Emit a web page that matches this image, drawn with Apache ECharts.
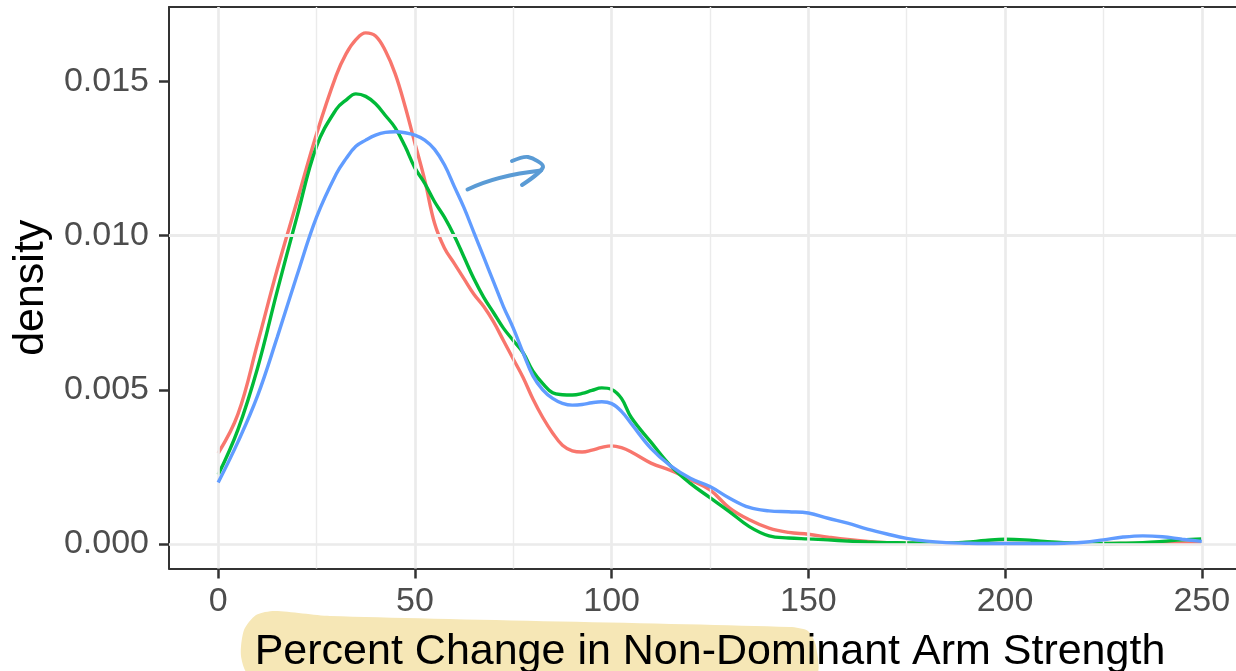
<!DOCTYPE html>
<html>
<head>
<meta charset="utf-8">
<script src="https://cdn.jsdelivr.net/npm/echarts@6/dist/echarts.min.js"></script>
<style>
html,body{margin:0;padding:0;background:#fff;}
#chart{width:1236px;height:671px;}
</style>
</head>
<body>
<div id="chart"></div>
<script>
// ---- data ----
const xValues = [0,5,10,15,20,25,30,32.5,35,37.5,40,42.5,45,47.5,50,52.5,55,57.5,60,62.5,65,67.5,70,72.5,
  75,77.5,80,82.5,85,87.5,90,92.5,95,97.5,100,102.5,105,
  110,115,120,125,130,135,140,145,150,155,160,165,170,175,180,185,190,195,200,
  205,210,215,220,225,230,235,240,245,250];

const redDensity = [0.00294,0.0042,0.0065,0.0089,0.0111,0.0133,0.0152,0.0159,0.01636,0.01658,0.01648,0.0160,0.01525,0.0142,0.0130,0.0118,0.0104,0.0096,0.0091,0.0086,0.0081,0.0077,0.0072,0.0066,
  0.0060,0.0054,0.0047,0.0041,0.0036,0.0032,0.00302,0.00298,0.00304,0.00313,0.00318,0.00312,0.00298,
  0.00262,0.00238,0.00208,0.00175,0.00116,0.00078,0.00051,0.00037,0.00031,0.00022,0.00014,0.00008,0.00004,0.00002,0.00001,0.00001,0.00001,0.00001,0.00001,
  0.00001,0.00001,0.00001,0.00001,0.00001,0.00001,0.00001,0.00002,0.00003,0.00003];

const greenDensity = [0.00224,0.0037,0.0057,0.0082,0.0106,0.0129,0.0141,0.0144,0.01460,0.01452,0.01428,0.0139,0.0135,0.0129,0.0122,0.0117,0.0111,0.0106,0.0100,0.0093,0.0086,0.0080,0.0075,0.0070,
  0.0066,0.0062,0.0056,0.0052,0.0049,0.00484,0.00483,0.00488,0.00498,0.00506,0.00501,0.00472,0.0041,
  0.0033,0.00253,0.00196,0.00150,0.00104,0.00056,0.00026,0.00019,0.00016,0.00013,0.00009,0.00006,0.00004,0.00003,0.00002,0.00002,0.00005,0.00011,0.00015,
  0.00013,0.00008,0.00004,0.00002,0.00001,0.00002,0.00004,0.00008,0.00013,0.00016];

const blueDensity = [0.00199,0.0033,0.0048,0.0067,0.0087,0.0106,0.0120,0.0125,0.0129,0.0131,0.01326,0.01335,0.01337,0.01334,0.01326,0.0131,0.0128,0.0123,0.0116,0.0109,0.0101,0.0093,0.0085,0.0077,
  0.0070,0.0062,0.00545,0.0050,0.00472,0.00456,0.00450,0.00452,0.00458,0.00461,0.00455,0.0043,0.0039,
  0.0031,0.00253,0.00213,0.00186,0.00148,0.00118,0.00107,0.00104,0.00100,0.00083,0.00067,0.00048,0.00032,0.00018,0.00009,0.00004,0.00002,0.00001,0.00001,
  0.00001,0.00001,0.00002,0.00005,0.00013,0.00022,0.00026,0.00023,0.00015,0.00008];

const xTicks = [0,50,100,150,200,250];
const xMinor = [25,75,125,175,225];
const yTicks = [0,0.005,0.010,0.015];
const yMinor = [0.0025,0.0075,0.0125];

const xTitle = 'Percent Change in Non-Dominant Arm Strength';
const yTitle = 'density';

// ---- chart ----
const FONT = '"Liberation Sans", Arial, Helvetica, sans-serif';
const chart = echarts.init(document.getElementById('chart'), null, {renderer:'canvas'});

function pairs(ys){ return xValues.map((x,i)=>[x, ys[i]]); }

function gridLines(){
  const d = [];
  xMinor.forEach(v=>d.push({xAxis:v, lineStyle:{width:1.4}}));
  yMinor.forEach(v=>d.push({yAxis:v, lineStyle:{width:1.4}}));
  xTicks.forEach(v=>d.push({xAxis:v, lineStyle:{width:2.7}}));
  yTicks.forEach(v=>d.push({yAxis:v, lineStyle:{width:2.7}}));
  return d;
}

const lineSeries = (name, color, ys, z) => ({
  name, type:'line', data: pairs(ys), smooth: 0.4, showSymbol:false, symbol:'none',
  lineStyle:{color, width:3.4}, itemStyle:{color}, z, clip:true, silent:true
});

const X_MIN = -12.5, X_MAX = 258.7;
const Y_MIN = -0.0008, Y_MAX = 0.01742;
const BORDER = {color:'#333333', width:2};

const option = {
  animation:false,
  backgroundColor:'#ffffff',
  grid:{left:169, top:7, right:0, height:561.5, show:false, containLabel:false, outerBoundsMode:'none'},
  xAxis:[{
    type:'value', min:X_MIN, max:X_MAX, position:'bottom',
    name:xTitle, nameLocation:'middle', nameGap:62,
    nameTextStyle:{fontSize:43, color:'#000000', fontFamily:FONT, padding:[0,0,0,15]},
    axisLine:{show:true, onZero:false, lineStyle:BORDER},
    axisTick:{show:true, customValues:xTicks, length:10, lineStyle:{color:'#333333', width:2.5}},
    axisLabel:{customValues:xTicks, fontSize:34, color:'#4D4D4D', fontFamily:FONT, margin:16},
    splitLine:{show:false}
  },{
    type:'value', min:X_MIN, max:X_MAX, position:'top',
    axisLine:{show:true, onZero:false, lineStyle:BORDER},
    axisTick:{show:false}, axisLabel:{show:false}, splitLine:{show:false}
  }],
  yAxis:{
    type:'value', min:Y_MIN, max:Y_MAX,
    name:yTitle, nameLocation:'middle', nameGap:114, nameRotate:90,
    nameTextStyle:{fontSize:43, color:'#000000', fontFamily:FONT},
    axisLine:{show:true, onZero:false, lineStyle:BORDER},
    axisTick:{show:true, customValues:yTicks, length:10, lineStyle:{color:'#333333', width:2.5}},
    axisLabel:{customValues:yTicks, fontSize:34, color:'#4D4D4D', fontFamily:FONT, margin:20,
      formatter:(v)=>v.toFixed(3)},
    splitLine:{show:false}
  },
  series:[
    {type:'line', data:[], silent:true, z:1,
     markLine:{silent:true, symbol:'none', animation:false, label:{show:false},
       lineStyle:{color:'#EBEBEB', type:'solid'}, data:gridLines()}},
    lineSeries('A', '#F8766D', redDensity, 3),
    lineSeries('B', '#00BA38', greenDensity, 4),
    lineSeries('C', '#619CFF', blueDensity, 5)
  ],
  graphic:[
    {type:'polygon', z:-10, silent:true,
     shape:{points:[[244,630],[256,615],[275,611],[330,616],[790,627],[808,631],[816,646],[815,675],[250,675],[241,656]], smooth:0.25},
     style:{fill:'#F6E7B6'}},
    {type:'bezierCurve', z:50, silent:true,
     shape:{x1:467.5, y1:189.5, cpx1:485, cpy1:181, cpx2:510, cpy2:174, x2:541, y2:170.5},
     style:{fill:null, stroke:'#5A9BD5', lineWidth:4, lineCap:'round', lineJoin:'round'}},
    {type:'polyline', z:50, silent:true,
     shape:{points:[[512,161],[528,157],[543,167],[522,185]], smooth:0.3},
     style:{fill:null, stroke:'#5A9BD5', lineWidth:4, lineCap:'round', lineJoin:'round'}}
  ]
};
chart.setOption(option);
</script>
</body>
</html>
